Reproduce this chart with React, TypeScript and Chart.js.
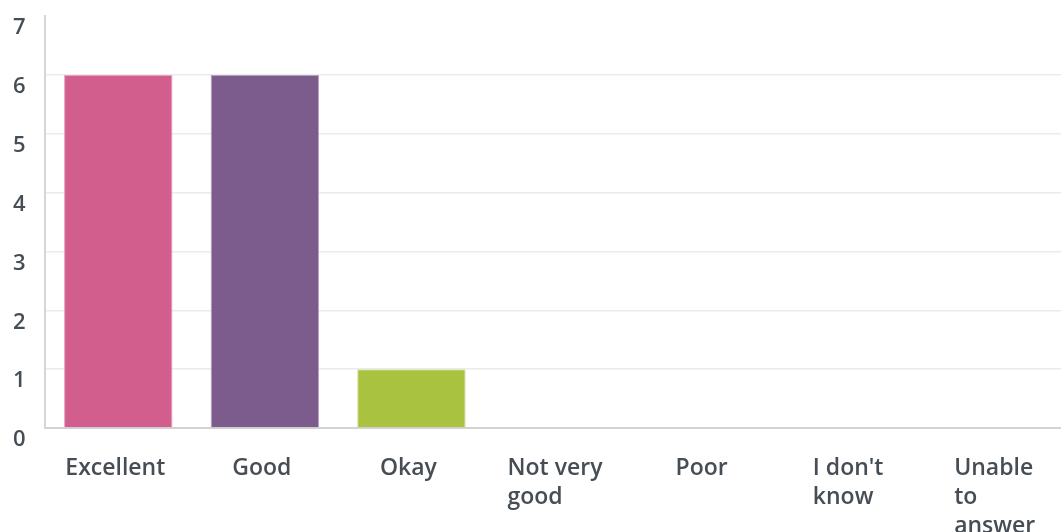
import React, { useEffect, useRef } from "react";
import { Chart, registerables } from "chart.js";

Chart.register(...registerables);

const categories: string[][] = [
  ["Excellent"],
  ["Good"],
  ["Okay"],
  ["Not very", "good"],
  ["Poor"],
  ["I don't", "know"],
  ["Unable", "to", "answer"],
];
const counts: number[] = [6, 6, 1, 0, 0, 0, 0];
const barColors: string[] = ["#d25e8d", "#7b5c8d", "#a9c23f", "#5fb8d1", "#f0a64a", "#6aa6d6", "#9a9a9a"];
const barBorders: string[] = ["#e7a2bf", "#b7a4c1", "#d2e09a", "#a9d9e6", "#f6cf9c", "#b2d0ea", "#cccccc"];
const yMin = 0;
const yMax = 7;

const FONT_FAMILY = "'Open Sans', Roboto, sans-serif";
const FONT_WEIGHT = "600";
const FONT_SIZE = 23;
const TEXT_COLOR = "#464d55";

const xLabelPlugin = {
  id: "xLabelPlugin",
  afterDraw(chart: any) {
    const xScale = chart.scales.x;
    const ctx = chart.ctx;
    ctx.save();
    ctx.font = `${FONT_WEIGHT} ${FONT_SIZE}px ${FONT_FAMILY}`;
    ctx.fillStyle = TEXT_COLOR;
    ctx.textAlign = "left";
    ctx.textBaseline = "alphabetic";
    const base = chart.chartArea.bottom + 47;
    const lh = 29;
    categories.forEach((lines, i) => {
      const cx = xScale.getPixelForValue(i);
      const w = Math.max(...lines.map((l) => ctx.measureText(l).width));
      const left = cx - w / 2 - 3;
      lines.forEach((line, j) => {
        ctx.fillText(line, left, base + j * lh);
      });
    });
    ctx.restore();
  },
};

export default function App() {
  const ref = useRef<HTMLCanvasElement | null>(null);
  useEffect(() => {
    if (!ref.current) return;
    const chart = new Chart(ref.current, {
      type: "bar",
      data: {
        labels: categories.map((c) => c.join(" ")),
        datasets: [
          {
            data: counts,
            backgroundColor: barColors,
            borderColor: barBorders,
            borderWidth: 1,
            barPercentage: 0.74,
            categoryPercentage: 1,
          },
        ],
      },
      options: {
        responsive: true,
        maintainAspectRatio: false,
        animation: false,
        layout: { padding: { left: 13, top: 16, right: 9, bottom: 0 } },
        plugins: {
          legend: { display: false },
          tooltip: { enabled: false },
        },
        scales: {
          x: {
            grid: { display: false },
            border: { display: true, color: "#d3d3d3", width: 2 },
            ticks: { display: false },
            afterFit: (scale: any) => {
              scale.height = 104;
            },
          },
          y: {
            min: yMin,
            max: yMax,
            ticks: {
              stepSize: 1,
              crossAlign: "far",
              labelOffset: 12,
              color: TEXT_COLOR,
              font: { family: FONT_FAMILY, size: FONT_SIZE - 1, weight: FONT_WEIGHT },
            },
            grid: {
              drawTicks: false,
              lineWidth: 1.5,
              color: (c: any) =>
                c.tick && (c.tick.value === yMax || c.tick.value === yMin) ? "rgba(0,0,0,0)" : "#ebebeb",
            },
            border: { display: true, color: "#d6d6d6", width: 2 },
            afterFit: (scale: any) => {
              scale.width = 32;
            },
          },
        },
      },
      plugins: [xLabelPlugin],
    });
    return () => chart.destroy();
  }, []);
  return (
    <div style={{ position: "fixed", left: 0, top: 0, width: 1080, height: 532, background: "#ffffff" }}>
      <canvas ref={ref} />
    </div>
  );
}
